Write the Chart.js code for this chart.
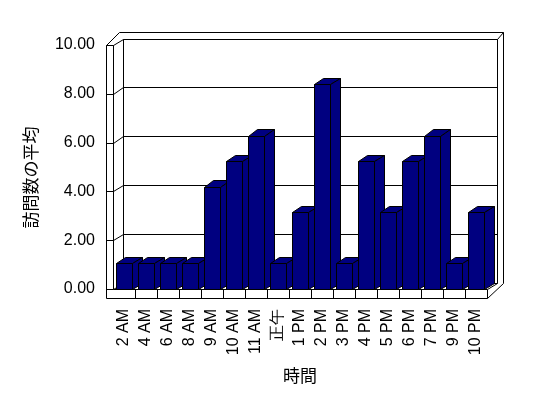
<!DOCTYPE html>
<html>
<head>
<meta charset="utf-8">
<script src="https://cdn.jsdelivr.net/npm/chart.js@4.4.1/dist/chart.umd.min.js"></script>
<style>
  html, body { margin: 0; padding: 0; background: #fff; }
</style>
</head>
<body>
<canvas id="visitChart" width="548" height="398"></canvas>
<script>
// Data
const categories = ['2 AM', '4 AM', '6 AM', '8 AM', '9 AM', '10 AM', '11 AM', '正午',
  '1 PM', '2 PM', '3 PM', '4 PM', '5 PM', '6 PM', '7 PM', '9 PM', '10 PM'];
const avgVisits = [1, 1, 1, 1, 4, 5, 6, 1, 3, 8, 1, 5, 3, 5, 6, 1, 3];
const yTicks = [0, 2, 4, 6, 8, 10];

const LATIN = "'Liberation Sans', Arial, sans-serif";
const CJK = "'Noto Sans CJK JP', 'Liberation Sans', sans-serif";

// 3D look (Excel style)
const DX = 9.5, DY = -6.5;   // depth of the plot box
const WALL = 7;              // left wall thickness
const FLOOR = 9;             // floor slab thickness
const BAR_COLOR = '#000080';

const px = v => Math.round(v) + 0.5;

function line(ctx, x1, y1, x2, y2) {
  ctx.beginPath();
  ctx.moveTo(px(x1), px(y1));
  ctx.lineTo(px(x2), px(y2));
  ctx.stroke();
}

function poly(ctx, pts) {
  ctx.beginPath();
  pts.forEach((p, i) => i ? ctx.lineTo(px(p[0]), px(p[1])) : ctx.moveTo(px(p[0]), px(p[1])));
  ctx.closePath();
  ctx.fill();
  ctx.stroke();
}

const frame3d = {
  id: 'frame3d',
  beforeDatasetsDraw(chart) {
    const { ctx, chartArea: a, scales: { x, y } } = chart;
    const L = a.left, R = a.right;
    const B = y.getPixelForValue(0), T = y.getPixelForValue(10);
    ctx.save();
    ctx.strokeStyle = '#000';
    ctx.lineWidth = 1;

    // back wall (inner face + outer edge)
    line(ctx, L + DX, T + DY, R + DX, T + DY);
    line(ctx, L + DX, T + DY, L + DX, B + DY);
    line(ctx, R + DX, T + DY, R + DX, B + DY);
    line(ctx, L - WALL + 13, T + DY - 6.5, R + DX + 6, T + DY - 6.5);
    line(ctx, R + DX + 6, T + DY - 6.5, R + DX + 6, B + DY);
    line(ctx, R + DX, T + DY, R + DX + 6, T + DY - 6.5);

    // left wall
    line(ctx, L - WALL, T, L - WALL, B + FLOOR);
    line(ctx, L, T, L, B);
    line(ctx, L - WALL, T, L, T);
    line(ctx, L - WALL, T, L - WALL + 13, T + DY - 6.5);

    // grid lines: front tick, diagonal across the wall, back wall line
    yTicks.forEach(v => {
      const yv = y.getPixelForValue(v);
      line(ctx, L - WALL, yv, L, yv);
      line(ctx, L, yv, L + DX, yv + DY);
      line(ctx, L + DX, yv + DY, R + DX, yv + DY);
    });

    // floor slab
    line(ctx, L, B, R, B);
    line(ctx, L - WALL, B + FLOOR, R, B + FLOOR);
    line(ctx, R, B, R, B + FLOOR);
    line(ctx, R, B, R + DX, B + DY);
    line(ctx, R, B + FLOOR, R + DX + 6, B + DY);

    // category dividers on the floor front
    const w = (R - L) / categories.length;
    for (let i = 1; i < categories.length; i++) {
      const xb = x.getPixelForValue(i) - w / 2;
      line(ctx, xb, B, xb, B + FLOOR);
    }

    // y axis title
    ctx.fillStyle = '#000';
    ctx.font = '17px ' + CJK;
    ctx.textAlign = 'center';
    ctx.textBaseline = 'middle';
    ctx.translate(30.5, 177.5);
    ctx.rotate(-Math.PI / 2);
    ctx.fillText('訪問数の平均', 0, 0);
    ctx.restore();
  },
  afterDatasetsDraw(chart) {
    const { ctx } = chart;
    const meta = chart.getDatasetMeta(0);
    ctx.save();
    ctx.strokeStyle = '#000';
    ctx.fillStyle = BAR_COLOR;
    ctx.lineWidth = 1;
    // left to right so each bar covers the side face of the previous one
    meta.data.forEach(el => {
      const { x, y, base, width } = el.getProps(['x', 'y', 'base', 'width'], true);
      const xl = x - width / 2, xr = x + width / 2;
      poly(ctx, [[xl, y], [xr, y], [xr + DX, y + DY], [xl + DX, y + DY]]);
      poly(ctx, [[xr, y], [xr + DX, y + DY], [xr + DX, base + DY], [xr, base]]);
      poly(ctx, [[xl, y], [xr, y], [xr, base], [xl, base]]);
    });
    ctx.restore();
  }
};

new Chart(document.getElementById('visitChart'), {
  type: 'bar',
  data: {
    labels: categories,
    datasets: [{
      label: '訪問数の平均',
      data: avgVisits,
      yAxisID: 'yBar',
      backgroundColor: 'rgba(0,0,0,0)',
      borderWidth: 0,
      barPercentage: 0.77,
      categoryPercentage: 1
    }]
  },
  options: {
    responsive: false,
    animation: false,
    devicePixelRatio: 1,
    layout: { padding: { left: 0, top: 45, right: 61, bottom: 0 } },
    plugins: { legend: { display: false }, tooltip: { enabled: false } },
    scales: {
      x: {
        offset: true,
        grid: { display: false, drawTicks: false },
        border: { display: false },
        ticks: {
          autoSkip: false, minRotation: 90, maxRotation: 90, padding: 20,
          color: '#000', font: { size: 16, family: LATIN }
        },
        title: {
          display: true, text: '時間', color: '#000',
          font: { size: 17, family: CJK }, padding: { top: 0, bottom: 12 }
        },
        afterFit: s => { s.height = 109; }
      },
      y: {
        min: 0, max: 10,
        afterBuildTicks: s => { s.ticks = yTicks.map(v => ({ value: v })); },
        grid: { display: false, drawTicks: false },
        border: { display: false },
        ticks: {
          padding: 18, color: '#000', font: { size: 16, family: LATIN },
          callback: v => v.toFixed(2)
        },
        afterFit: s => { s.width = 113; }
      },
      // bars appear a bit taller than the wall grid (Excel perspective)
      yBar: { display: false, min: 0, max: 9.54 }
    }
  },
  plugins: [frame3d]
});
</script>
</body>
</html>
